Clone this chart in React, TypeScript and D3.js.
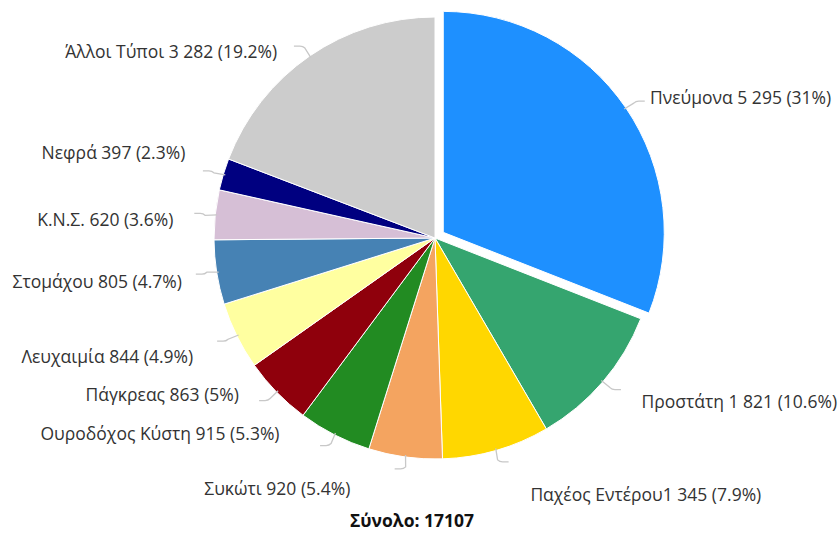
import React from 'react';
import * as d3 from 'd3';

// cancer cases by site
const categories = [
  'Πνεύμονα', 'Προστάτη', 'Παχέος Εντέρου', 'Συκώτι', 'Ουροδόχος Κύστη',
  'Πάγκρεας', 'Λευχαιμία', 'Στομάχου', 'Κ.Ν.Σ.', 'Νεφρά', 'Άλλοι Τύποι',
];
const cases = [5295, 1821, 1345, 920, 915, 863, 844, 805, 620, 397, 3282];
const nameGaps = [' ', ' ', '', ' ', ' ', ' ', ' ', ' ', ' ', ' ', ' '];
const sliceColors = [
  '#1E90FF', '#35A56F', '#FFD700', '#F4A460', '#228B22',
  '#8F000C', '#FFFFA0', '#4682B4', '#D6BFD6', '#000080', '#CCCCCC',
];
const explodedIndex = 0;

// label nudges (layout only), relative to the leader anchor
const labelNudge: [number, number][] = [
  [6, 2], [22, 6], [28, 23], [-52, 10], [-45, -21], [-22, -13],
  [-24, 11], [-13, 6], [-20, 7], [-17, -15], [-20, 14],
];

const W = 840;
const H = 533;
const cx = 435;
const cy = 238;
const R = 221;
const explode = 10;

const fmtNum = d3.formatLocale({ decimal: '.', thousands: ' ', grouping: [3], currency: ['', ''] }).format(',d');
const fmtPct = (p: number) => d3.format('.1f')(p).replace(/\.0$/, '') + '%';

const polar = (r: number, a: number): [number, number] => [r * Math.sin(a), -r * Math.cos(a)];

const App: React.FC = () => {
  const total = d3.sum(cases);
  const pie = d3.pie<number>().sort(null).startAngle(0).endAngle(2 * Math.PI);
  const arcs = pie(cases);
  const arc = d3.arc<d3.PieArcDatum<number>>().innerRadius(0).outerRadius(R);

  const font = "'Open Sans', 'Noto Sans', sans-serif";

  return (
    <svg width={W} height={H} style={{ position: 'absolute', left: 0, top: 0, background: '#fff' }}>
      <g transform={`translate(${cx},${cy})`}>
        {arcs.map((d, i) => {
          const mid = (d.startAngle + d.endAngle) / 2;
          const [ox, oy] = i === explodedIndex ? polar(explode, mid) : [0, 0];
          return (
            <path
              key={categories[i]}
              d={arc(d) || ''}
              transform={`translate(${ox},${oy})`}
              fill={sliceColors[i]}
              stroke="#fff"
              strokeWidth={1}
            />
          );
        })}
        {arcs.map((d, i) => {
          const mid = (d.startAngle + d.endAngle) / 2;
          const [ox, oy] = i === explodedIndex ? polar(explode, mid) : [0, 0];
          const right = Math.sin(mid) > 0;
          const side = right ? 1 : -1;
          const [sx, sy] = polar(R - 2, mid);
          const [ex, ey] = polar(R + 12, mid);
          const [ax, ay] = polar(R + 22, mid);
          const hx = ex + side * 9;
          const path = d3.path();
          path.moveTo(sx + ox, sy + oy);
          path.lineTo(ex + ox - side * 2, ey + oy - 2 * Math.sign(ey));
          path.quadraticCurveTo(ex + ox, ey + oy, ex + ox + side * 3, ey + oy);
          path.lineTo(hx + ox, ey + oy);
          const [nx, ny] = labelNudge[i];
          const text = `${categories[i]}${nameGaps[i]}${fmtNum(cases[i])} (${fmtPct((cases[i] / total) * 100)})`;
          return (
            <g key={'lbl' + i}>
              <path d={path.toString()} fill="none" stroke="#C8C8C8" strokeWidth={1.3} />
              <text
                x={ax + ox + nx}
                y={ay + oy + ny}
                dy="0.35em"
                textAnchor={right ? 'start' : 'end'}
                fontFamily={font}
                fontSize={17.5}
                fill="#333"
              >
                {text}
              </text>
            </g>
          );
        })}
      </g>
      <text x={412} y={521} dy="0.35em" textAnchor="middle" fontFamily={font} fontSize={17.5} fontWeight="bold" fill="#111">
        {`Σύνολο: ${total}`}
      </text>
    </svg>
  );
};

export default App;
